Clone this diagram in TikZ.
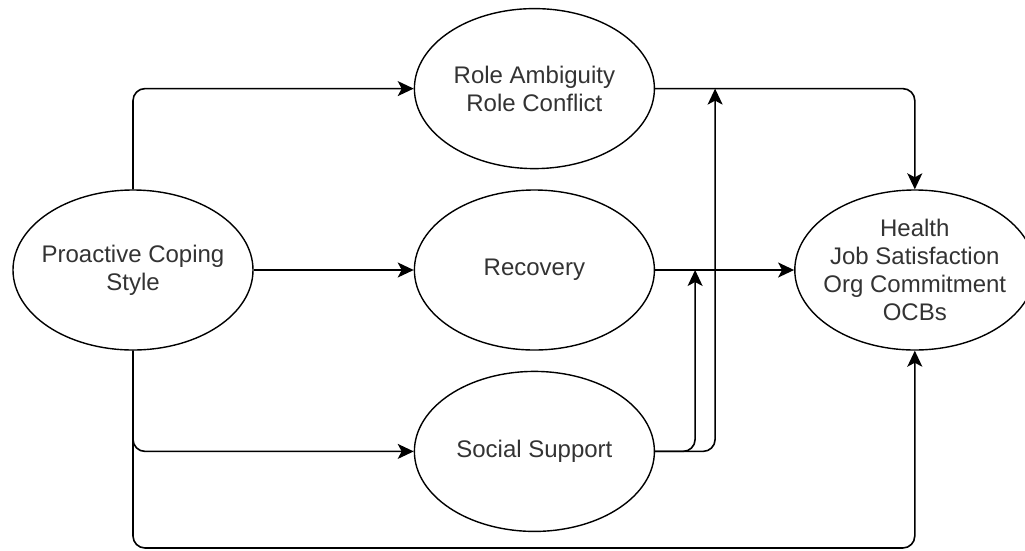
\documentclass[tikz,border=0pt]{standalone}
\usepackage{fontspec}
\setmainfont{Liberation Sans}
\usetikzlibrary{positioning}
\usetikzlibrary{calc}
\usetikzlibrary{arrows.meta}
\usetikzlibrary{shapes.geometric}
\begin{document}
\begin{tikzpicture}[
  x=1pt,y=-1pt,
  node distance=160pt,
  factor/.style={draw,ellipse,line width=1.4pt,minimum width=240pt,minimum height=160pt,
    inner xsep=-14pt,inner ysep=0pt,align=center,text=black!80,
    font=\fontsize{24}{28}\selectfont},
  link/.style={line width=1.6pt,rounded corners=12pt,
    -{Stealth[length=16pt,width=15pt,inset=4pt]}}
  ]
  \useasboundingbox (0,0) rectangle (1025,550);
  \node (proactive) [factor] at (133,270) {Proactive Coping\\Style};
  \node (recovery)  [factor,right=of proactive] {Recovery};
  \node (role)      [factor,above=20pt of recovery] {Role Ambiguity\\Role Conflict};
  \node (social)    [factor,below=20pt of recovery] {Social Support};
  \node (outcomes)  [factor,right=139pt of recovery] {Health\\Job Satisfaction\\Org Commitment\\OCBs};
  \coordinate (floor) at (0,548);
  \coordinate (jrec)  at ([xshift=40pt]recovery.east);
  \coordinate (jrole) at ([xshift=60pt]role.east);
  \draw [link] (proactive.north) |- (role);
  \draw [link] (proactive) -- (recovery);
  \draw [link] (proactive.south) |- (social);
  \draw [link] (proactive.south) -- (proactive.south |- floor) -| (outcomes.south);
  \draw [link] (role) -| (outcomes);
  \draw [link] (recovery) -- (outcomes);
  \draw [link] (social.east) -| (jrec);
  \draw [link] (social.east) -| (jrole);
\end{tikzpicture}
\end{document}
